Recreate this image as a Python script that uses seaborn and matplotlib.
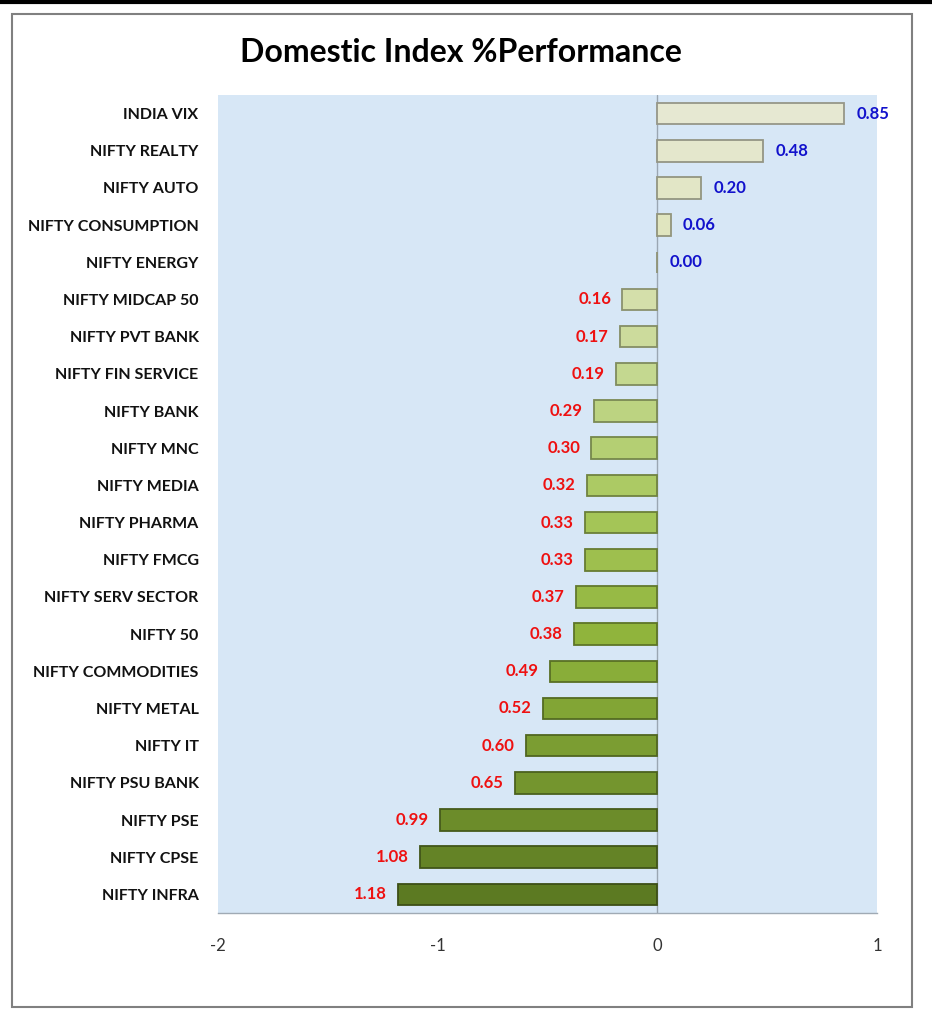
import numpy as np
import pandas as pd
import matplotlib.pyplot as plt
import matplotlib.colors as mcolors
from matplotlib.patches import Rectangle
from matplotlib.lines import Line2D
import seaborn as sns

# Data (top to bottom)
indices = ['INDIA VIX', 'NIFTY REALTY', 'NIFTY AUTO', 'NIFTY CONSUMPTION', 'NIFTY ENERGY',
           'NIFTY MIDCAP 50', 'NIFTY PVT BANK', 'NIFTY FIN SERVICE', 'NIFTY BANK', 'NIFTY MNC',
           'NIFTY MEDIA', 'NIFTY PHARMA', 'NIFTY FMCG', 'NIFTY SERV SECTOR', 'NIFTY 50',
           'NIFTY COMMODITIES', 'NIFTY METAL', 'NIFTY IT', 'NIFTY PSU BANK', 'NIFTY PSE',
           'NIFTY CPSE', 'NIFTY INFRA']
change = [0.85, 0.48, 0.20, 0.06, 0.00,
          -0.16, -0.17, -0.19, -0.29, -0.30,
          -0.32, -0.33, -0.33, -0.37, -0.38,
          -0.49, -0.52, -0.60, -0.65, -0.99,
          -1.08, -1.18]
x_ticks = [-2, -1, 0, 1]

df = pd.DataFrame({'index': indices, 'change': change})

sns.set_style('white')
plt.rcParams['font.family'] = ['Lato', 'DejaVu Sans']

# pale to dark olive gradient, top to bottom
cmap = mcolors.LinearSegmentedColormap.from_list(
    'olive', ['#e6e8d2', '#dfe4bc', '#c4d890', '#a8c85c', '#90b43c', '#789a30', '#5c7a22'])
colors = [mcolors.to_hex(cmap(i / (len(indices) - 1))) for i in range(len(indices))]
palette = dict(zip(indices, colors))

fig = plt.figure(figsize=(9.32, 10.11), dpi=100)
ax = fig.add_axes([218 / 932, 1 - 913 / 1011, (877 - 218) / 932, (913 - 95) / 1011])

sns.barplot(data=df, x='change', y='index', hue='index', palette=palette,
            legend=False, width=0.58, saturation=1, ax=ax, zorder=3)

for bar, c in zip(ax.patches, colors):
    bar.set_edgecolor(mcolors.to_hex(np.array(mcolors.to_rgb(c)) * 0.65))
    bar.set_linewidth(1.3)

ax.set_facecolor('#d7e7f6')
ax.set_xlim(-2, 1)
ax.set_ylim(len(indices) - 0.5, -0.5)
ax.set_xticks(x_ticks)
ax.set_xticklabels([str(t) for t in x_ticks])
ax.set_xlabel('')
ax.set_ylabel('')
ax.axvline(0, color='#9aa6b2', lw=1, zorder=2)

for s in ['top', 'right', 'left']:
    ax.spines[s].set_visible(False)
ax.spines['bottom'].set_color('#a0aab4')
ax.spines['bottom'].set_linewidth(1)

ax.tick_params(axis='x', length=0, pad=18, labelsize=12, labelcolor='#333333')
ax.tick_params(axis='y', length=0, pad=14, labelsize=11.5, labelcolor='#111111')
for lbl in ax.get_yticklabels():
    lbl.set_fontweight('bold')

# value labels
for i, v in enumerate(change):
    if v >= 0:
        ax.annotate(f'{abs(v):.2f}', xy=(v, i), xytext=(9, 0), textcoords='offset points',
                    ha='left', va='center', color='#1212cc', fontsize=12, fontweight='bold')
    else:
        ax.annotate(f'{abs(v):.2f}', xy=(v, i), xytext=(-8, 0), textcoords='offset points',
                    ha='right', va='center', color='#ee1111', fontsize=12, fontweight='bold')

fig.text(461 / 932, 1 - 52 / 1011, 'Domestic Index %Performance', ha='center', va='center',
         fontsize=23, fontweight='bold', color='black')

# frame around the chart
fig.patches.append(Rectangle((12 / 932, 4 / 1011), 900 / 932, 993 / 1011,
                             transform=fig.transFigure, fill=False, edgecolor='#808080', lw=1.5))
fig.lines.append(Line2D([0, 1], [1 - 2 / 1011, 1 - 2 / 1011], transform=fig.transFigure,
                        color='black', lw=3))

plt.savefig('out.png', dpi=100)
plt.close()
